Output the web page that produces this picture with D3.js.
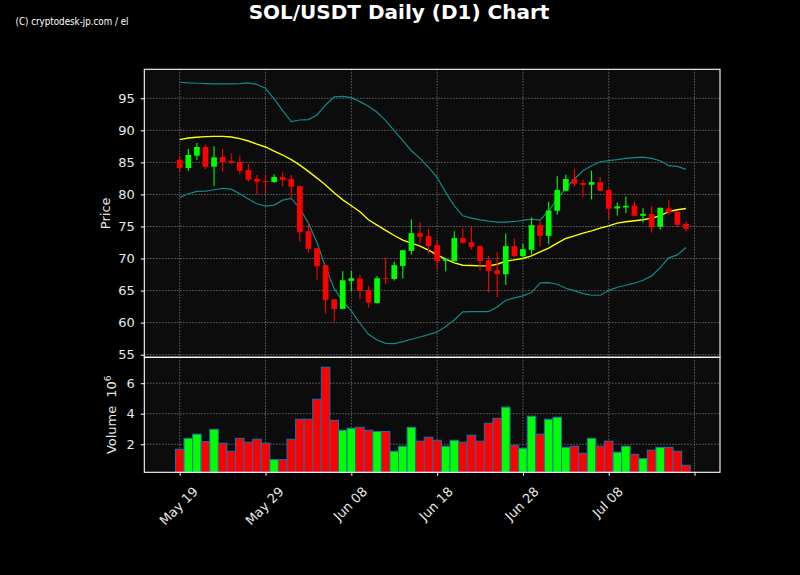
<!DOCTYPE html>
<html>
<head>
<meta charset="utf-8">
<title>SOL/USDT Daily (D1) Chart</title>
<script src="https://cdn.jsdelivr.net/npm/d3@7"></script>
<style>
  body { margin: 0; background: #000; }
  svg { display: block; font-family: "DejaVu Sans", sans-serif; }
</style>
</head>
<body>
<div id="chart"></div>
<script>
// daily candles 19 May .. 17 Jul
var firstDay = "2024-05-19";
var opens  = [85.42, 84.11, 86.04, 87.40, 84.32, 85.83, 85.21, 85.05, 83.80, 82.45,
              82.08, 81.93, 82.71, 82.40, 81.30, 74.27, 71.61, 68.96, 63.65, 62.14,
              66.51, 66.88, 65.05, 63.07, 66.93, 66.82, 68.85, 71.20, 73.96, 73.49,
              72.08, 69.64, 69.58, 73.18, 72.55, 71.93, 69.74, 68.18, 67.55, 71.93,
              70.36, 71.35, 75.21, 73.54, 77.45, 80.57, 82.40, 81.77, 81.51, 81.93,
              80.68, 77.81, 77.97, 78.23, 76.67, 76.93, 74.95, 77.81, 77.29, 75.42];
var highs  = [85.89, 87.08, 88.02, 87.76, 87.50, 87.08, 86.41, 86.09, 84.79, 83.02,
              83.23, 83.13, 83.44, 83.02, 81.30, 75.63, 71.61, 68.96, 63.65, 68.02,
              68.07, 67.45, 65.73, 67.29, 70.16, 69.48, 71.30, 76.09, 75.63, 74.64,
              72.71, 70.00, 74.27, 74.69, 75.05, 72.08, 70.42, 71.04, 73.91, 73.13,
              72.29, 76.41, 75.89, 78.85, 82.86, 83.07, 83.91, 82.34, 83.70, 82.76,
              80.94, 78.75, 79.69, 78.96, 77.86, 78.18, 77.92, 79.11, 77.29, 75.83];
var lows   = [83.54, 83.70, 85.36, 83.96, 81.35, 83.59, 84.69, 83.13, 81.98, 80.05,
              80.31, 81.82, 81.25, 79.38, 72.66, 70.94, 66.67, 61.41, 60.16, 62.10,
              64.95, 63.65, 62.34, 63.00, 65.99, 66.56, 66.88, 70.63, 72.34, 70.78,
              68.28, 67.97, 69.55, 72.34, 71.46, 68.13, 64.69, 64.01, 65.89, 70.26,
              69.90, 70.63, 71.88, 72.24, 76.88, 80.50, 81.25, 79.64, 79.22, 80.42,
              76.20, 76.72, 77.08, 76.60, 75.63, 74.06, 74.48, 76.88, 74.95, 74.17];
var closes = [84.11, 86.15, 87.40, 84.32, 85.78, 85.05, 84.95, 83.70, 82.29, 81.98,
              81.96, 82.71, 82.24, 81.20, 74.11, 71.51, 68.80, 63.54, 62.14, 66.61,
              66.93, 64.95, 63.13, 66.93, 66.82, 68.96, 71.30, 73.96, 73.39, 71.98,
              69.64, 69.90, 73.18, 72.45, 71.82, 69.58, 68.07, 67.55, 71.93, 70.36,
              71.46, 75.21, 73.54, 77.50, 80.68, 82.40, 81.67, 81.51, 81.93, 80.57,
              77.76, 78.13, 78.23, 76.67, 76.98, 74.95, 77.92, 77.19, 75.26, 74.64];
// volume in units of 10^6
var volumes = [1.67, 2.39, 2.66, 2.17, 2.98, 2.07, 1.54, 2.39, 2.13, 2.33,
               2.07, 0.99, 0.99, 2.33, 3.64, 3.64, 4.95, 7.05, 3.57, 2.92,
               3.05, 3.11, 2.92, 2.83, 2.83, 1.54, 1.87, 3.11, 2.20, 2.46,
               2.26, 1.87, 2.26, 2.13, 2.59, 2.20, 3.38, 3.70, 4.43, 1.93,
               1.74, 3.84, 2.66, 3.64, 3.77, 1.80, 1.87, 1.41, 2.39, 1.87,
               2.20, 1.48, 1.87, 1.34, 1.06, 1.61, 1.80, 1.80, 1.54, 0.62];
// 20 day moving average and bollinger bands
var ma20 = [88.54, 88.80, 88.91, 89.01, 89.06, 89.06, 88.96, 88.70, 88.33, 87.86,
            87.40, 86.77, 86.15, 85.42, 84.58, 83.59, 82.55, 81.46, 80.25, 79.15,
            78.23, 77.29, 76.04, 75.21, 74.38, 73.59, 72.86, 72.40, 71.93, 71.30,
            70.57, 69.90, 69.32, 68.96, 68.91, 68.85, 68.85, 69.11, 69.58, 69.79,
            70.00, 70.42, 71.04, 71.61, 72.40, 73.13, 73.54, 73.96, 74.32, 74.74,
            75.10, 75.52, 75.73, 75.89, 76.04, 76.30, 76.67, 77.34, 77.60, 77.81];
var bbUpper = [97.50, 97.40, 97.34, 97.29, 97.24, 97.24, 97.24, 97.29, 97.40, 97.14,
               96.56, 94.90, 93.07, 91.35, 91.61, 91.67, 92.40, 93.96, 95.21, 95.31,
               95.10, 94.48, 93.75, 92.81, 91.51, 89.95, 88.39, 86.82, 85.63, 84.22,
               82.66, 80.31, 78.23, 76.67, 76.30, 76.04, 75.83, 75.68, 75.68, 75.78,
               75.94, 76.15, 75.99, 77.45, 79.27, 80.94, 82.40, 83.70, 84.48, 85.10,
               85.26, 85.42, 85.63, 85.73, 85.83, 85.63, 85.26, 84.48, 84.38, 83.91];
var bbLower = [79.53, 80.10, 80.47, 80.52, 80.73, 80.94, 80.83, 80.10, 79.27, 78.54,
               78.18, 78.33, 79.11, 79.38, 77.81, 75.52, 72.50, 68.59, 65.34, 63.26,
               61.82, 59.90, 58.18, 57.29, 56.77, 56.72, 57.03, 57.40, 57.76, 58.13,
               58.54, 59.38, 60.42, 61.67, 61.72, 61.72, 61.72, 62.45, 63.49, 63.85,
               64.17, 64.69, 66.20, 66.25, 65.99, 65.36, 65.00, 64.53, 64.27, 64.27,
               65.00, 65.52, 65.83, 66.15, 66.61, 67.29, 68.59, 70.10, 70.57, 71.72];
var priceTicks = [55, 60, 65, 70, 75, 80, 85, 90, 95];
var volTicks = [2, 4, 6];
var tickEvery = 10;   // days between date ticks

var W = 800, H = 575;
var left = 144.3, right = 720, pTop = 69.3, pBot = 357.3, vBot = 472.3;
var DAY = 864e5;

var start = new Date(firstDay + "T00:00:00Z");
var data = opens.map(function(o, i) {
    return {date: d3.utcDay.offset(start, i), o: o, h: highs[i], l: lows[i], c: closes[i],
            v: volumes[i], ma: ma20[i], up: bbUpper[i], lo: bbLower[i]};
});
var lastTick = d3.utcDay.offset(start, 60);
var xTicks = d3.utcDay.range(start, d3.utcDay.offset(lastTick, 1), tickEvery);

var x = d3.scaleUtc()
    .domain([new Date(start.getTime() - 4.13 * DAY), new Date(start.getTime() + 62.97 * DAY)])
    .range([left, right]);
var yP = d3.scaleLinear().domain([54.59, 99.52]).range([pBot, pTop]);
var yV = d3.scaleLinear().domain([0.16, 7.70]).range([vBot, pBot]);
var dayW = x(d3.utcDay.offset(start, 1)) - x(start);

var svg = d3.select("#chart").append("svg")
    .attr("width", W).attr("height", H)
    .style("background", "#000");

// panel backgrounds
svg.append("rect").attr("x", left).attr("y", pTop).attr("width", right - left).attr("height", pBot - pTop).attr("fill", "#0c0c0c");
svg.append("rect").attr("x", left).attr("y", pBot).attr("width", right - left).attr("height", vBot - pBot).attr("fill", "#0c0c0c");

// grid
var grid = svg.append("g").attr("stroke", "#a8a8a8").attr("stroke-width", 0.9)
    .attr("stroke-dasharray", "1.2,1.8").attr("opacity", 0.8);
grid.selectAll(".gp").data(priceTicks).enter().append("line")
    .attr("x1", left).attr("x2", right)
    .attr("y1", function(d) { return yP(d); }).attr("y2", function(d) { return yP(d); });
grid.selectAll(".gv").data(volTicks).enter().append("line")
    .attr("x1", left).attr("x2", right)
    .attr("y1", function(d) { return yV(d); }).attr("y2", function(d) { return yV(d); });
grid.selectAll(".gx").data(xTicks).enter().append("line")
    .attr("x1", function(d) { return x(d); }).attr("x2", function(d) { return x(d); })
    .attr("y1", pTop).attr("y2", vBot);

// bollinger bands and ma
var line = function(key) {
    return d3.line().x(function(d) { return x(d.date); }).y(function(d) { return yP(d[key]); });
};
svg.append("path").datum(data).attr("d", line("up")).attr("fill", "none").attr("stroke", "#0e8a8a").attr("stroke-width", 1.2);
svg.append("path").datum(data).attr("d", line("lo")).attr("fill", "none").attr("stroke", "#0e8a8a").attr("stroke-width", 1.2);
svg.append("path").datum(data).attr("d", line("ma")).attr("fill", "none").attr("stroke", "#ffff00").attr("stroke-width", 1.4);

// candles
var col = function(d) { return d.c >= d.o ? "#00ff00" : "#ff0000"; };
var candles = svg.append("g").selectAll("g").data(data).enter().append("g");
candles.append("line")
    .attr("x1", function(d) { return x(d.date); }).attr("x2", function(d) { return x(d.date); })
    .attr("y1", function(d) { return yP(d.h); }).attr("y2", function(d) { return yP(d.l); })
    .attr("stroke", col).attr("stroke-width", 1.1);
candles.append("rect")
    .attr("x", function(d) { return x(d.date) - dayW * 0.33; })
    .attr("width", dayW * 0.66)
    .attr("y", function(d) { return yP(Math.max(d.o, d.c)); })
    .attr("height", function(d) { return Math.max(1, Math.abs(yP(d.o) - yP(d.c))); })
    .attr("fill", col);

// volume bars
svg.append("g").selectAll("rect").data(data).enter().append("rect")
    .attr("x", function(d) { return x(d.date) - dayW / 2; })
    .attr("width", dayW)
    .attr("y", function(d) { return yV(d.v); })
    .attr("height", function(d) { return vBot - yV(d.v); })
    .attr("fill", col)
    .attr("stroke", "#1f6fae").attr("stroke-width", 1);

// frames
svg.append("rect").attr("x", left).attr("y", pTop).attr("width", right - left).attr("height", pBot - pTop)
    .attr("fill", "none").attr("stroke", "#fff").attr("stroke-width", 1.1);
svg.append("rect").attr("x", left).attr("y", pBot).attr("width", right - left).attr("height", vBot - pBot)
    .attr("fill", "none").attr("stroke", "#fff").attr("stroke-width", 1.1);

// axes
function styleAxis(g) {
    g.select(".domain").remove();
    g.selectAll(".tick line").attr("stroke", "#fff");
    g.selectAll(".tick text").attr("fill", "#e8e8e8").style("font-size", "13px").style("font-family", "DejaVu Sans");
}
svg.append("g").attr("transform", "translate(" + left + ",0)")
    .call(d3.axisLeft(yP).tickValues(priceTicks).tickSize(3.5).tickPadding(6))
    .call(styleAxis);
svg.append("g").attr("transform", "translate(" + left + ",0)")
    .call(d3.axisLeft(yV).tickValues(volTicks).tickSize(3.5).tickPadding(6))
    .call(styleAxis);
var fmt = d3.utcFormat("%b %d");
var xg = svg.append("g").attr("transform", "translate(0," + vBot + ")")
    .call(d3.axisBottom(x).tickValues(xTicks).tickSize(3.5)
        .tickFormat(function(d) { return +d === +lastTick ? "" : fmt(d); }))
    .call(styleAxis);
xg.selectAll(".tick text").each(function() {
    var L = this.getComputedTextLength();
    var half = (L / 2 + 6) * Math.SQRT1_2;
    d3.select(this)
        .attr("text-anchor", "middle").attr("dominant-baseline", "central")
        .attr("y", 0).attr("dy", 0)
        .attr("transform", "translate(-1.5," + (12.7 + half) + ") rotate(-45)");
});

// axis labels
svg.append("text").attr("transform", "translate(110," + ((pTop + pBot) / 2) + ") rotate(-90)")
    .attr("text-anchor", "middle").attr("fill", "#e8e8e8").style("font-size", "13px")
    .text("Price");
var vl = svg.append("text").attr("transform", "translate(115.5," + ((pBot + vBot) / 2) + ") rotate(-90)")
    .attr("text-anchor", "middle").attr("fill", "#e8e8e8").style("font-size", "13px");
vl.append("tspan").text("Volume");
vl.append("tspan").attr("dx", 8).text("10");
vl.append("tspan").attr("dy", -5).style("font-size", "9px").text("6");

// titles
svg.append("text").attr("x", 399).attr("y", 19).attr("text-anchor", "middle")
    .attr("fill", "#fff").style("font-size", "20px").style("font-weight", "bold")
    .text("SOL/USDT Daily (D1) Chart");
svg.append("text").attr("x", 15.5).attr("y", 24.5)
    .attr("fill", "#fff").style("font-size", "10px")
    .attr("textLength", 113).attr("lengthAdjust", "spacingAndGlyphs")
    .text("(C) cryptodesk-jp.com / el");
</script>
</body>
</html>
